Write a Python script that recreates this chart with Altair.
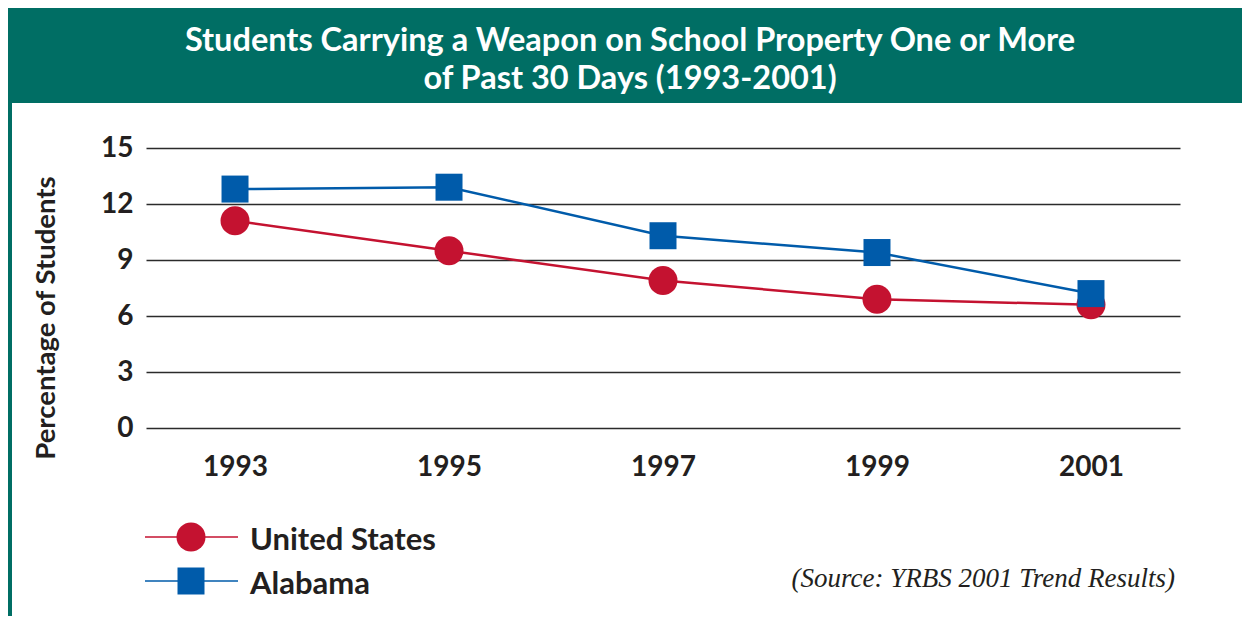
import altair as alt
import pandas as pd

years = ["1993", "1995", "1997", "1999", "2001"]
us_values = [11.1, 9.5, 7.9, 6.9, 6.6]
al_values = [12.8, 12.9, 10.3, 9.4, 7.2]
series_names = ["United States", "Alabama"]
y_ticks = [0, 3, 6, 9, 12, 15]
title_lines = ["Students Carrying a Weapon on School Property One or More",
               "of Past 30 Days (1993-2001)"]
y_title = "Percentage of Students"
source_text = "(Source: YRBS 2001 Trend Results)"

W, H = 1034, 280
RED = "#c41230"
BLUE = "#005baa"
GREEN = "#006e64"
INK = "#231f20"
FONT = "Lato"

df = pd.DataFrame({
    "year": years * 2,
    "value": us_values + al_values,
    "series": [series_names[0]] * len(years) + [series_names[1]] * len(years),
})

x_enc = alt.X("year:O",
              scale=alt.Scale(type="point", padding=0.416),
              axis=alt.Axis(title=None, domain=False, ticks=False, labelAngle=0,
                            labelFont=FONT, labelFontSize=28, labelFontWeight="bold",
                            labelColor=INK, labelPadding=25))
y_enc = alt.Y("value:Q",
              scale=alt.Scale(domain=[0, 15], nice=False, zero=True),
              axis=alt.Axis(title=None, domain=False, ticks=False, values=y_ticks,
                            grid=True, gridColor="#2b2b2b", gridWidth=1.5,
                            labelFont=FONT, labelFontSize=28, labelFontWeight="bold",
                            labelColor=INK, labelPadding=13))

one = pd.DataFrame({"k": [0]})


def rect(x1, x2, y1, y2, color):
    return alt.Chart(one).mark_rect(color=color).encode(
        x=alt.value(x1), x2=alt.value(x2), y=alt.value(y1), y2=alt.value(y2))


def text_layer(txt, x, y, **kw):
    return alt.Chart(pd.DataFrame({"t": [txt]})).mark_text(**kw).encode(
        x=alt.value(x), y=alt.value(y), text="t:N")


band = rect(-140, 1110, -145, -45, GREEN)
left_strip = rect(-140, -134, -145, 480, GREEN)

title1 = text_layer(title_lines[0], 484, -97, font=FONT, fontSize=32.5, fontWeight="bold",
                    color="white", align="center", baseline="alphabetic")
title2 = text_layer(title_lines[1], 484, -59, font=FONT, fontSize=32.5, fontWeight="bold",
                    color="white", align="center", baseline="alphabetic")
ytitle = text_layer(y_title, -99, 170, font=FONT, fontSize=27.5, fontWeight="bold",
                    color=INK, align="center", baseline="middle", angle=270)

base = alt.Chart(df)
us = base.transform_filter(alt.datum.series == series_names[0])
al = base.transform_filter(alt.datum.series == series_names[1])

us_line = us.mark_line(color=RED, strokeWidth=2.5).encode(x=x_enc, y=y_enc)
al_line = al.mark_line(color=BLUE, strokeWidth=2.5).encode(x=x_enc, y=y_enc)
us_pts = us.mark_point(shape="circle", filled=True, color=RED, size=841, opacity=1).encode(x=x_enc, y=y_enc)
al_pts = al.mark_point(shape="square", filled=True, color=BLUE, size=729, opacity=1).encode(x=x_enc, y=y_enc)

# legend
leg_us_line = alt.Chart(one).mark_rule(color=RED, strokeWidth=1.5).encode(
    x=alt.value(-1), x2=alt.value(92), y=alt.value(389))
leg_us_pt = alt.Chart(one).mark_point(shape="circle", filled=True, color=RED, size=841, opacity=1).encode(
    x=alt.value(45), y=alt.value(389))
leg_al_line = alt.Chart(one).mark_rule(color=BLUE, strokeWidth=1.5).encode(
    x=alt.value(-1), x2=alt.value(92), y=alt.value(433))
leg_al_pt = alt.Chart(one).mark_point(shape="square", filled=True, color=BLUE, size=729, opacity=1).encode(
    x=alt.value(45), y=alt.value(433))
leg_us_txt = text_layer(series_names[0], 104, 402, font=FONT, fontSize=31, fontWeight="bold",
                        color=INK, align="left", baseline="alphabetic")
leg_al_txt = text_layer(series_names[1], 104, 446, font=FONT, fontSize=31, fontWeight="bold",
                        color=INK, align="left", baseline="alphabetic")

source = text_layer(source_text, 1029, 439, font="Liberation Serif", fontSize=27, fontStyle="italic",
                    color=INK, align="right", baseline="alphabetic")

chart = alt.layer(
    band, left_strip, title1, title2, ytitle,
    us_line, al_line, us_pts, al_pts,
    leg_us_line, leg_al_line, leg_us_pt, leg_al_pt, leg_us_txt, leg_al_txt, source,
).properties(
    width=W, height=H,
    padding={"left": 138, "top": 140, "right": 62, "bottom": 188},
    autosize=alt.AutoSizeParams(type="none"),
    background="white",
).configure_view(stroke=None)

chart.save("out.html", embed_options={"renderer": "svg", "actions": False})
